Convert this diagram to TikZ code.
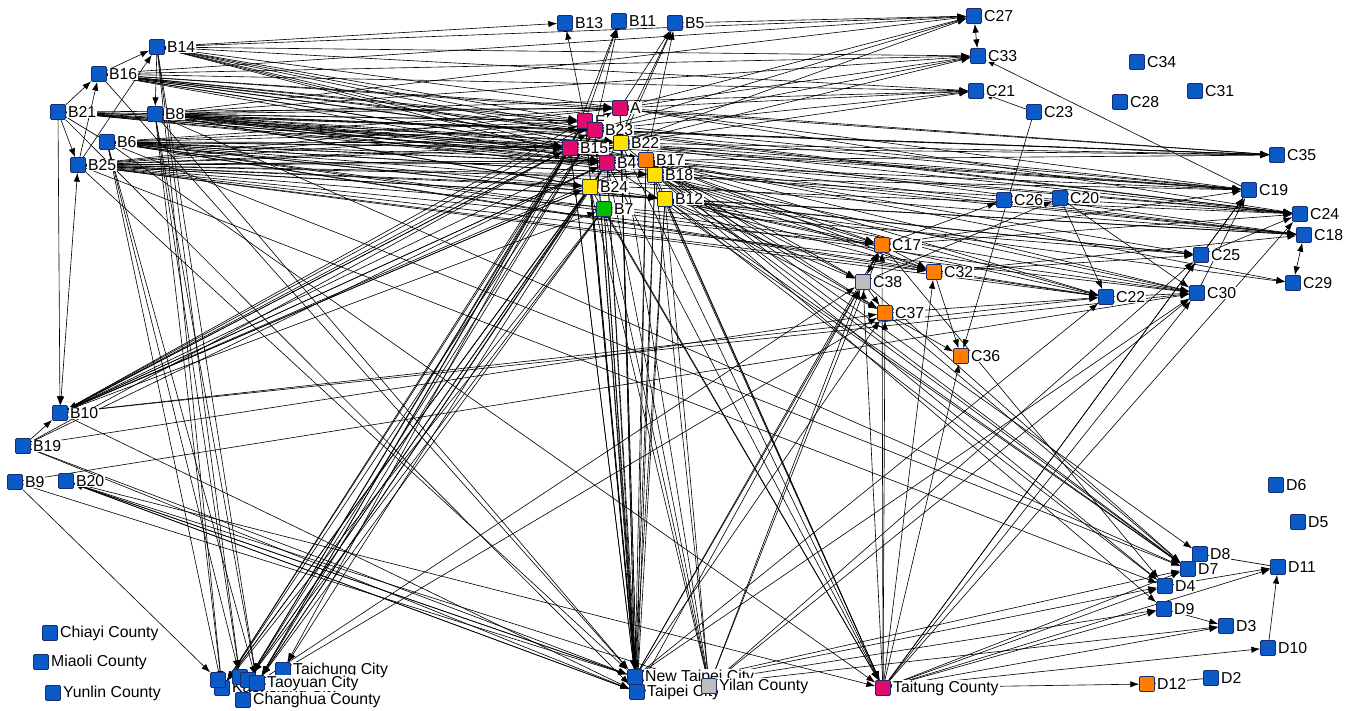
\documentclass[tikz,border=0pt]{standalone}
\usepackage{fontspec}
\setmainfont{Liberation Sans}
\usepackage{xcolor}
\definecolor{nodeblue}{RGB}{10, 90, 200}
\definecolor{noderim}{RGB}{25, 45, 110}
\definecolor{nodepink}{RGB}{225, 10, 110}
\definecolor{nodeyellow}{RGB}{255, 225, 0}
\definecolor{nodeorange}{RGB}{255, 125, 0}
\definecolor{nodegreen}{RGB}{0, 190, 0}
\definecolor{nodegrey}{RGB}{190, 190, 190}
\usetikzlibrary{arrows.meta, backgrounds}
\newcommand{\lblfont}{\fontsize{9}{10}\selectfont}
\tikzset{
  actor/.style={draw=noderim, fill=nodeblue, minimum size=0.3cm, inner sep=0pt, rounded corners=0.6pt, line width=0.4pt},
  tag/.style={font=\lblfont, fill=white, inner sep=0.5pt},
  tie/.style={-{Latex[length=5pt,width=3.6pt]}, line width=0.35pt},
  tiepair/.style={{Latex[length=5pt,width=3.6pt]}-{Latex[length=5pt,width=3.6pt]}, line width=0.35pt},
}

\begin{document}
\begin{tikzpicture}[x=0.02cm, y=-0.02cm, label distance=0.6pt]

  \useasboundingbox (0,0) rectangle (1354,710);

  % ---------- left and top actors ----------
  \foreach \n/\x/\y in {B14/157/47, B16/99/74, B21/58/112, B8/155/114, B6/107/142, B25/78/165,
                        B10/60/413, B19/23/446, B9/15/482, B20/66/481,
                        B13/565/23, B11/619/21, B5/675/23}
    \node[actor, label={[tag]right:\n}] (\n) at (\x,\y) {};

  % ---------- central cluster ----------
  \node[actor, fill=nodepink, label={[tag]right:A}] (A) at (620,108) {};
  \node[actor, fill=nodepink, label={[tag]right:E}] (E) at (585,121) {};
  \node[actor, fill=nodepink, label={[tag]right:B23}] (B23) at (595,130) {};
  \node[actor, fill=nodepink, label={[tag]right:B15}] (B15) at (570,148) {};
  \node[actor, fill=nodeyellow, label={[tag]right:B22}] (B22) at (621,143) {};
  \node[actor, fill=nodepink, label={[tag]right:B4}] (B4) at (607,163) {};
  \node[actor, fill=nodeorange, label={[tag]right:B17}] (B17) at (646,160) {};
  \node[actor, fill=nodeyellow, label={[tag]right:B18}] (B18) at (655,175) {};
  \node[actor, fill=nodeyellow, label={[tag]right:B24}] (B24) at (590,187) {};
  \node[actor, fill=nodegreen, label={[tag]right:B7}] (B7) at (604,209) {};
  \node[actor, fill=nodeyellow, label={[tag]right:B12}] (B12) at (665,199) {};

  % ---------- right actors ----------
  \foreach \n/\x/\y in {C27/974/16, C33/978/56, C21/976/91, C23/1034/112,
                        C34/1137/62, C28/1120/102, C31/1195/91,
                        C35/1277/155, C19/1249/190, C26/1004/200, C20/1060/198,
                        C24/1300/214, C18/1304/235, C25/1201/255, C29/1293/283,
                        C30/1197/293, C22/1106/297,
                        D6/1276/485, D5/1298/522, D8/1200/554, D7/1188/569, D11/1278/567,
                        D4/1165/586, D9/1164/609, D3/1226/626, D10/1268/648, D2/1211/678}
    \node[actor, label={[tag]right:\n}] (\n) at (\x,\y) {};

  \foreach \n/\x/\y in {C17/882/245, C32/934/272, C37/885/313, C36/961/356, D12/1147/684}
    \node[actor, fill=nodeorange, label={[tag]right:\n}] (\n) at (\x,\y) {};
  \node[actor, fill=nodegrey, label={[tag]right:C38}] (C38) at (863,282) {};

  % ---------- counties and cities ----------
  \node[actor, label={[tag]right:Chiayi County}] (CYI) at (50,633) {};
  \node[actor, label={[tag]right:Miaoli County}] (MLI) at (41,662) {};
  \node[actor, label={[tag]right:Yunlin County}] (YUN) at (53,693) {};
  \node[actor, label={[tag]right:Taichung City}] (TCH) at (283,670) {};
  \node[actor, label={[tag]right:Kaohsiung City}] (KHH) at (222,688) {};
  \node[actor] (u1) at (218,680) {};
  \node[actor] (u2) at (240,677) {};
  \node[actor] (u3) at (248,680) {};
  \node[actor, label={[tag]right:Taoyuan City}] (TYN) at (257,683) {};
  \node[actor, label={[tag]right:Changhua County}] (CHH) at (243,700) {};
  \node[actor, label={[tag]right:New Taipei City}] (NTP) at (635,677) {};
  \node[actor, label={[tag]right:Taipei City}] (TPE) at (637,692) {};
  \node[actor, fill=nodegrey, label={[tag]right:Yilan County}] (YLN) at (709,686) {};
  \node[actor, fill=nodepink, label={[tag]right:Taitung County}] (TTG) at (883,688) {};

  \begin{scope}[on background layer]
    % left group
    \draw[tie] (B14) -- (B8);
    \draw[tie] (B21) -- (B16);
    \draw[tie] (B25) -- (B16);
    \draw[tie] (B21) -- (B25);
    \draw[tie] (B25) -- (B14);
    \draw[tie] (B16) -- (B14);
    \draw (B21) -- (B6);
    \draw[tiepair] (B25) -- (B10);
    \draw[tie] (B21) -- (B10);
    \draw[tie] (B19) -- (B10);
    \draw[tie] (B14) -- (B13);

    % left group to the cluster
    \foreach \s in {B14,B16,B21,B8,B6,B25}
      \foreach \t in {E,B23,B15,A,B22,B4,B17}
        \draw[tie] (\s) -- (\t);
    \foreach \s in {B8,B6,B25}
      \foreach \t in {B18,B12,B24}
        \draw[tie] (\s) -- (\t);

    % left group to the right side
    \foreach \s in {B14,B16,B8}
      \foreach \t in {C27,C33,C21}
        \draw[tie] (\s) -- (\t);
    \foreach \s in {B16,B21,B8,B6,B25}
      \foreach \t in {C35,C19,C24,C18}
        \draw[tie] (\s) -- (\t);
    \foreach \s in {B6,B25}
      \foreach \t in {C25,C30,C22,C17,C32}
        \draw[tie] (\s) -- (\t);

    % B10 bundle
    \foreach \t in {E,B15,B23,B4,B24,B7,A,B22,B17}
      \draw[tie] (B10) -- (\t);
    \foreach \s in {B15,B4,B24}
      \draw[tie] (\s) -- (B10);
    \draw[tie] (B19) -- (B15);
    \draw[tie] (B19) -- (B4);
    \draw[tie] (B10) -- (C22);
    \draw[tie] (B10) -- (C30);
    \draw[tie] (B19) -- (C37);
    \draw[tie] (B10) -- (TPE);
    \draw[tie] (B19) -- (NTP);

    % cluster to the top
    \draw[tie] (E) -- (B13);
    \foreach \s in {E,B23,B15}
      \draw[tie] (\s) -- (B11);
    \foreach \s in {A,B22,B4,B17}
      \draw[tie] (\s) -- (B5);
    \draw[tie] (B5) -- (C27);

    % cluster down to the cities
    \foreach \s in {E,B23,B15,A,B22,B4,B17,B18,B24,B7,B12}
      \foreach \t in {NTP,TPE}
        \draw[tie] (\s) -- (\t);
    \foreach \s in {B4,B24,B7,B12,B18,B22}
      \draw[tie] (\s) -- (YLN);
    \foreach \s in {E,B15,B4,B24,B7,B23}
      \foreach \t in {TYN,u3,KHH}
        \draw[tie] (\s) -- (\t);
    \draw[tie] (B15) -- (TCH);
    \draw[tie] (B4) -- (TCH);
    \foreach \s in {B12,B18,B17,B7,B4,B22,B24}
      \draw[tie] (\s) -- (TTG);

    % left group down to the cities
    \foreach \s in {B14,B8,B6}
      \foreach \t in {KHH,u2,TYN}
        \draw[tie] (\s) -- (\t);
    \draw[tie] (B16) -- (NTP);
    \draw[tie] (B8) -- (NTP);
    \draw[tie] (B25) -- (NTP);
    \draw[tie] (B21) -- (TPE);
    \draw[tie] (B6) -- (TTG);
    \draw[tie] (B6) -- (D7);
    \draw[tie] (B25) -- (D4);
    \draw[tie] (B8) -- (D7);

    % bottom left actors
    \foreach \t in {NTP,TPE,YLN,TTG}
      \draw[tie] (B20) -- (\t);
    \draw[tie] (NTP) -- (B20);
    \draw[tie] (TPE) -- (B20);
    \draw[tie] (B9) -- (u1);
    \draw[tie] (B9) -- (NTP);
    \draw[tie] (B19) -- (TPE);
    \draw[tie] (B9) -- (C30);

    % cluster to the right side
    \foreach \s in {B12,B18,B17}
      \foreach \t in {C17,C38,C32,C37,C22,C30}
        \draw[tie] (\s) -- (\t);
    \foreach \s in {A,B22,B23}
      \foreach \t in {C27,C33,C21,C19,C24,C35}
        \draw[tie] (\s) -- (\t);
    \foreach \s in {B12,B17}
      \foreach \t in {C25,C18,C29}
        \draw[tie] (\s) -- (\t);
    \foreach \s in {B12,B18,B17,B4}
      \draw[tie] (\s) -- (D7);
    \draw[tie] (B17) -- (D8);
    \draw[tie] (B18) -- (D9);
    \draw[tie] (B12) -- (D4);
    \draw[tie] (B22) -- (D4);

    % Taitung County and the cities
    \foreach \t in {C38,C37,C17,C32,C36,C25,C30,C19,C24,D12,D10,D3,D9,D4,D11,D7}
      \draw[tie] (TTG) -- (\t);
    \foreach \t in {C38,C37,C17,C22,C30}
      \draw[tie] (NTP) -- (\t);
    \foreach \t in {D7,D4,D9,D3,C38}
      \draw[tie] (TPE) -- (\t);
    \foreach \t in {C38,C17,C30,C25}
      \draw[tie] (YLN) -- (\t);
    \draw[tie] (TYN) -- (C38);
    \draw[tie] (TCH) -- (C37);

    % right side
    \draw[tiepair] (C27) -- (C33);
    \draw[tie] (C23) -- (C21);
    \draw[tie] (C19) -- (C33);
    \draw[tie] (C23) -- (C36);
    \draw[tie] (C17) -- (C26);
    \draw[tie] (C38) -- (C20);
    \draw[tie] (C20) -- (C22);
    \draw[tiepair] (C38) -- (C17);
    \draw[tie] (C38) -- (C37);
    \draw[tie] (C17) -- (C32);
    \draw[tie] (C32) -- (C36);
    \draw[tie] (C37) -- (C36);
    \draw[tie] (C32) -- (C22);
    \draw[tie] (C37) -- (C22);
    \draw[tie] (C17) -- (C24);
    \draw[tie] (C32) -- (C18);
    \draw[tie] (C22) -- (C30);
    \draw[tie] (C25) -- (C19);
    \draw[tie] (C30) -- (C19);
    \draw[tiepair] (C18) -- (C29);
    \draw[tie] (C25) -- (C24);
    \draw[tie] (C20) -- (C30);
    \draw[tie] (C17) -- (C19);
    \draw[tie] (C32) -- (C25);
    \draw[tie] (C38) -- (D7);
    \draw[tie] (C37) -- (D7);
    \draw[tie] (C17) -- (D4);

    % D group
    \draw[tie] (D9) -- (D3);
    \draw[tie] (D10) -- (D11);
    \draw (D12) -- (D2);
    \draw[tie] (D4) -- (D11);
    \draw (D8) -- (D11);
  \end{scope}

\end{tikzpicture}
\end{document}
